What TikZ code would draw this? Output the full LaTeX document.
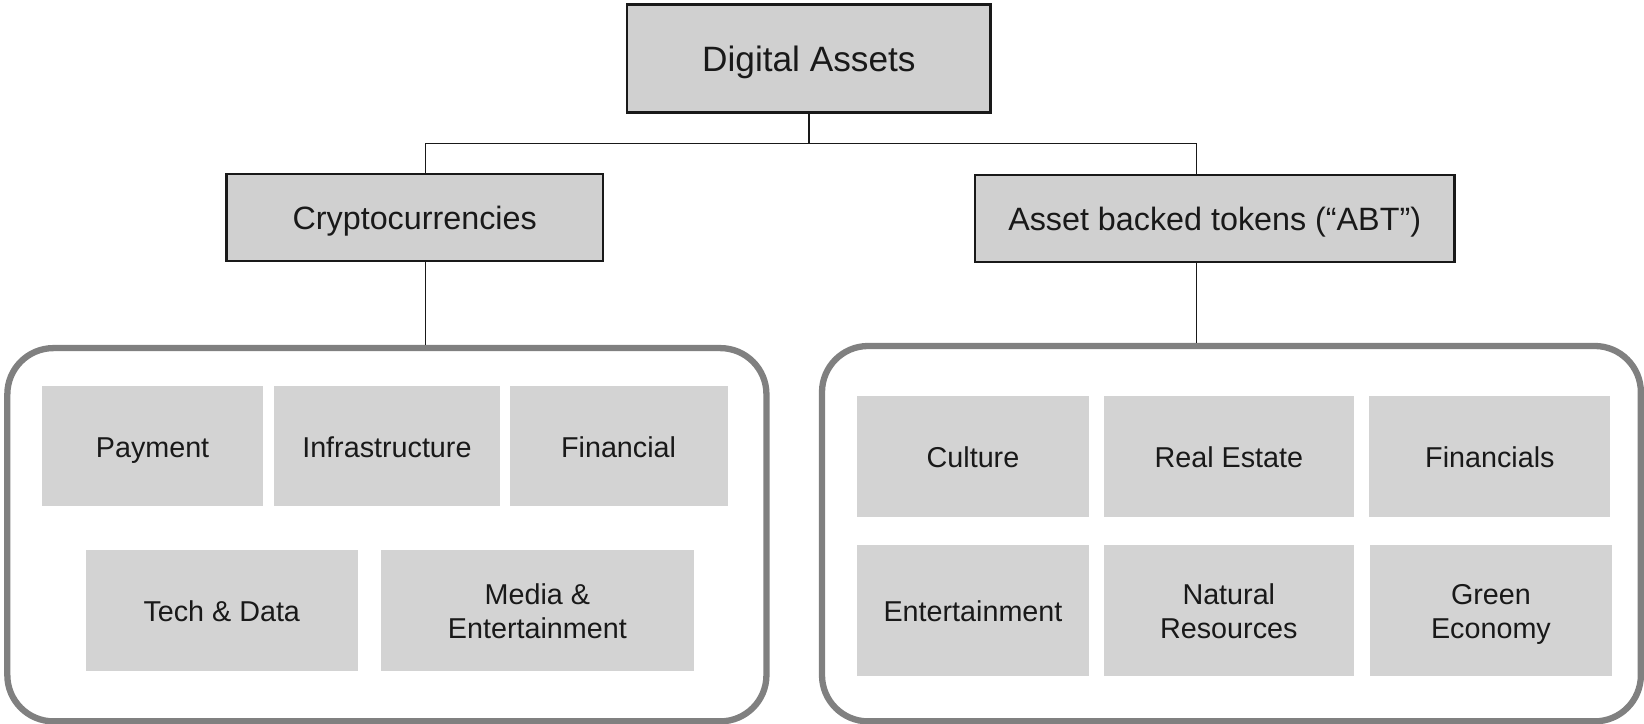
\documentclass[tikz,border=0pt]{standalone}
\usepackage{fontspec}
\setmainfont{Liberation Sans}
\usepackage{tikz}
\usepackage{xcolor}
\usetikzlibrary{positioning}
\definecolor{boxgray}{RGB}{211,211,211}
\definecolor{headgray}{RGB}{208,208,208}
\definecolor{framegray}{RGB}{128,128,128}

\begin{document}
\begin{tikzpicture}[
    x=0.5pt, y=-0.5pt,
    every node/.style={inner sep=0pt, align=center, text=black!90},
    head/.style={draw=black!90, line width=1.3pt, fill=headgray, minimum height=41.5pt,
        font=\fontsize{15.4}{18}\selectfont, text height=14.6pt, text depth=2.8pt},
    group/.style={draw=framegray, line width=3pt, rounded corners=22pt, fill=white},
    item/.style={fill=boxgray, font=\fontsize{13.7}{16}\selectfont, minimum height=57.5pt,
        text height=13pt, text depth=2.5pt},
    twoline/.style={text height=29pt},
    link/.style={line width=0.6pt, black!90}
]
\useasboundingbox (0,0) rectangle (1568,690);

% --- Top level ---
\node[head, minimum width=173.5pt, minimum height=51.5pt, font=\fontsize{16.8}{20}\selectfont,
    text height=16pt, text depth=3pt] (assets) at (771.5,55.5) {Digital Assets};
\node[head, minimum width=179.5pt] (crypto) at (395.5,207.5) {Cryptocurrencies};
\node[head, minimum width=228.5pt] (abt) at (1158.5,208.5) {Asset backed tokens (``ABT'')};

\coordinate (busL) at (406,137);
\coordinate (busR) at (1141,137);

% --- Group frames ---
\node[group, minimum width=362pt, minimum height=178pt] (cryptoset) at (369,510) {};
\node[group, minimum width=390.5pt, minimum height=179pt] (abtset) at (1174.5,509) {};

% --- Connectors ---
\draw[link] (assets.south) -- (assets.south |- busL);
\draw[link] (crypto.north -| busL) -- (busL) -- (busR) -- (abt.north -| busR);
\draw[link] (crypto.south -| busL) -- (cryptoset.north -| busL);
\draw[link] (abt.south -| busR) -- (abtset.north -| busR);

% --- Cryptocurrency types ---
\node[item, minimum width=105.5pt] (payment) at (145.5,425.5) {Payment};
\node[item, minimum width=108pt] (infra) at (369,425.5) {Infrastructure};
\node[item, minimum width=104pt] (financial) at (590,425.5) {Financial};
\node[item, minimum width=129.5pt] (techdata) at (211.5,582.5) {Tech \& Data};
\node[item, twoline, minimum width=149.5pt] (media) at (512.5,582.5) {Media \&\\Entertainment};

% --- ABT types ---
\node[item, minimum width=111pt] (culture) at (928,435.5) {Culture};
\node[item, minimum width=119pt] (realestate) at (1172,435.5) {Real Estate};
\node[item, minimum width=115pt] (financials) at (1421,435.5) {Financials};
\node[item, minimum width=111pt, minimum height=62.5pt] (entertain) at (928,582.5) {Entertainment};
\node[item, twoline, minimum width=119pt, minimum height=62.5pt] (natural) at (1172,582.5) {Natural\\Resources};
\node[item, twoline, minimum width=115pt, minimum height=62.5pt] (green) at (1422,582.5) {Green\\Economy};

\end{tikzpicture}
\end{document}
